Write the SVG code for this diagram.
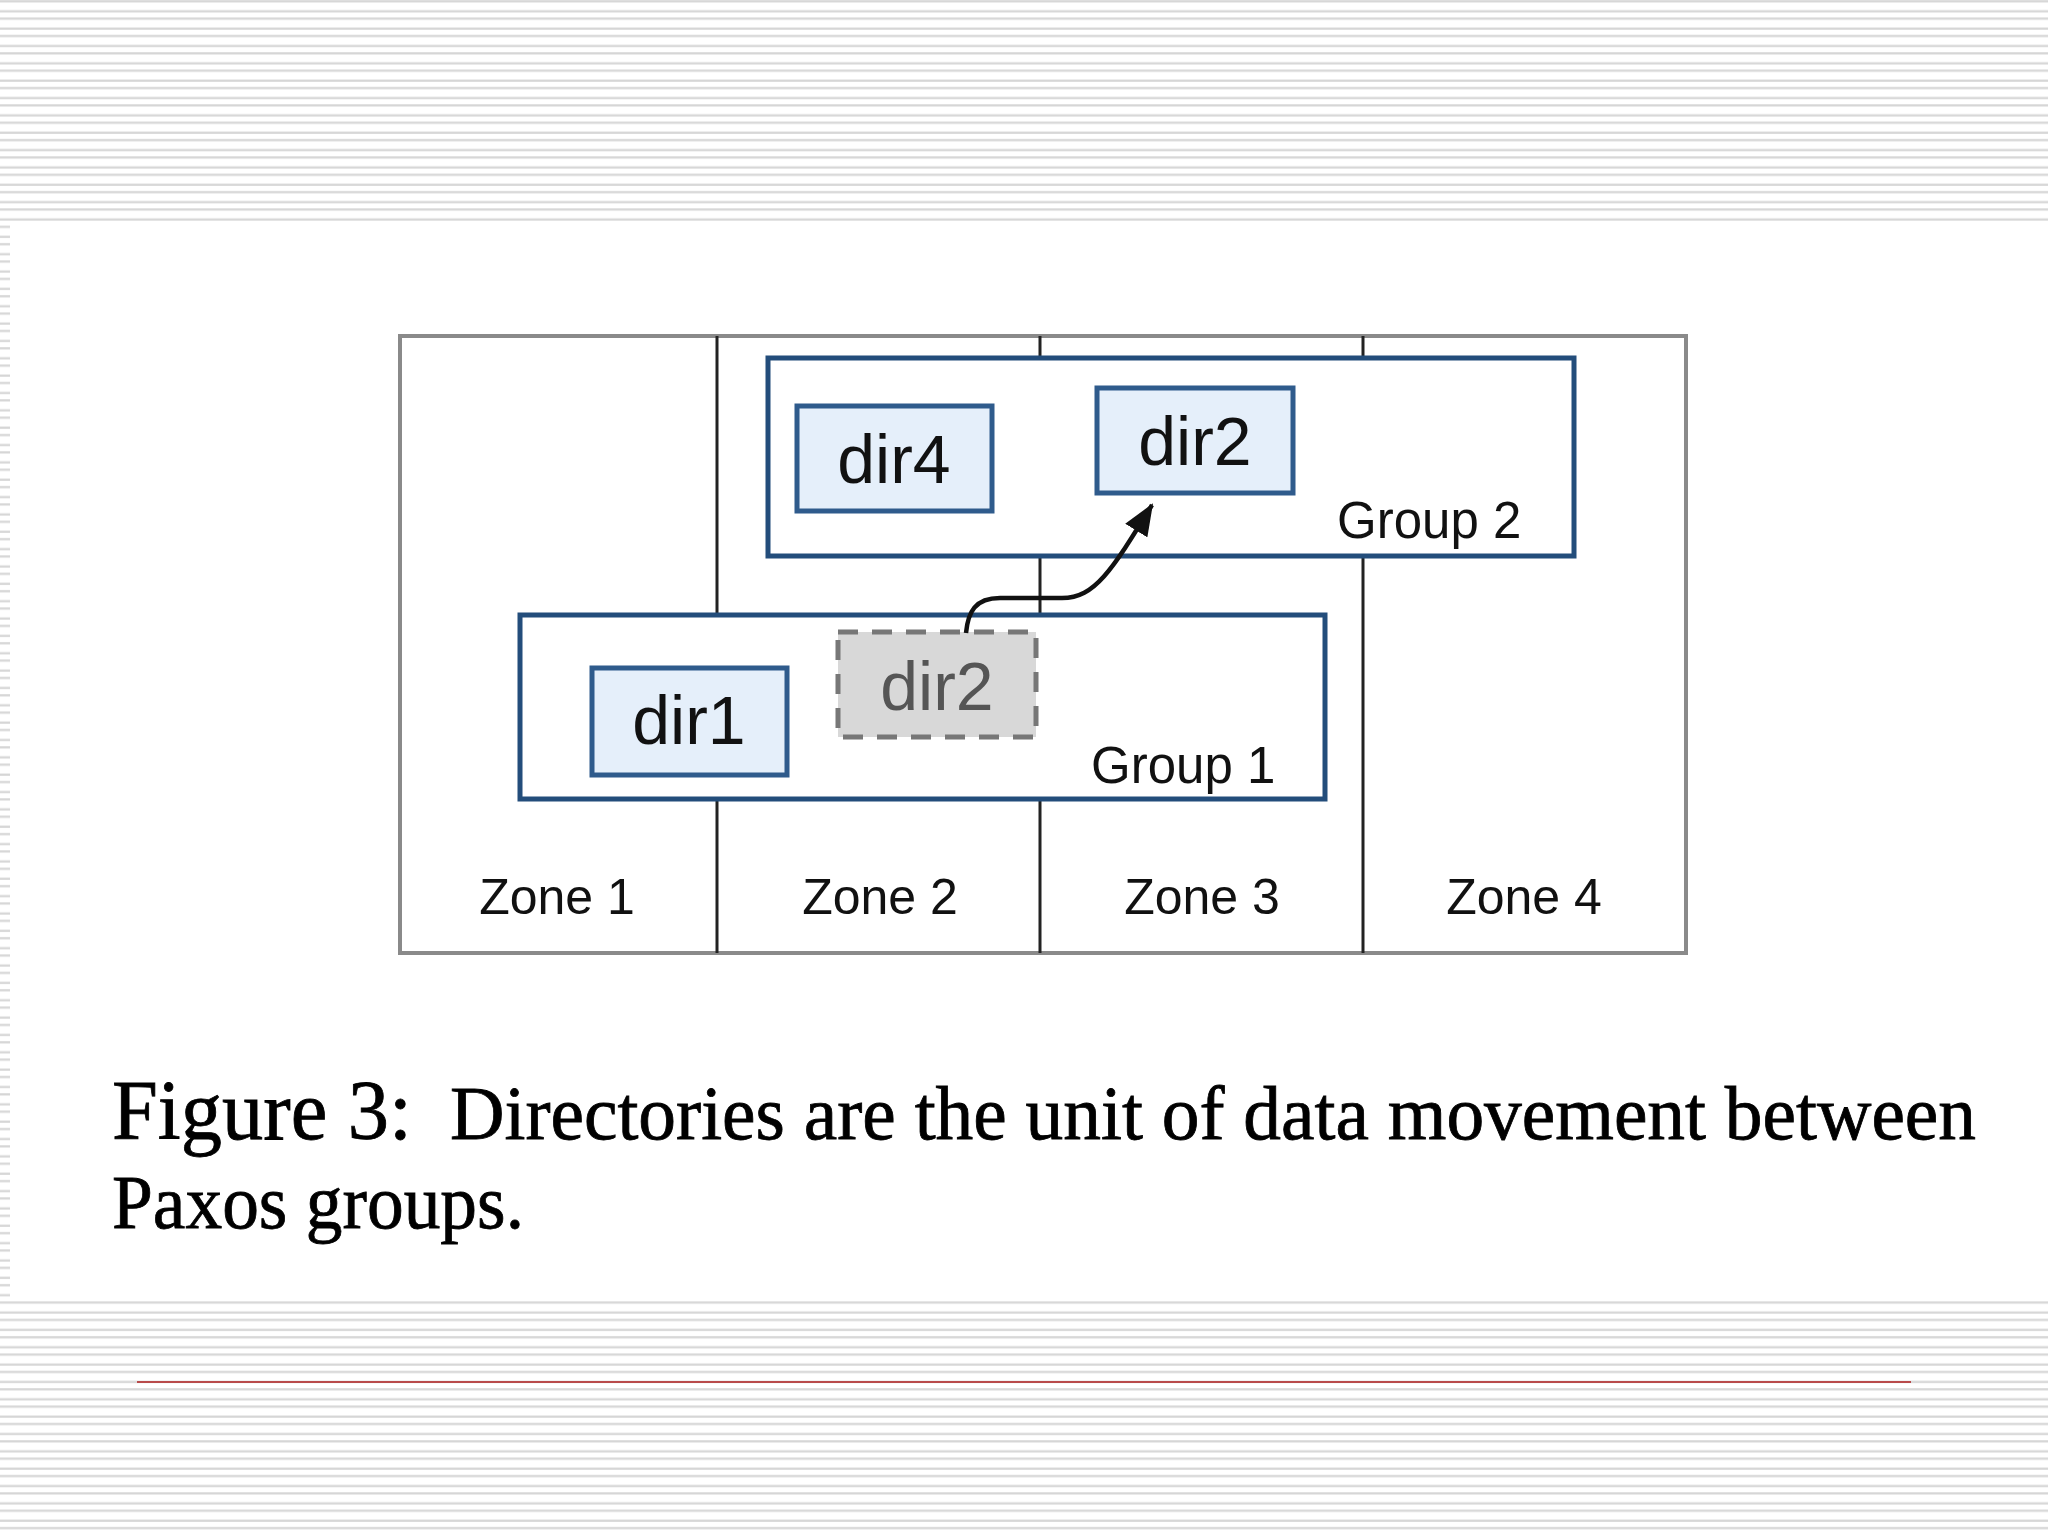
<svg xmlns="http://www.w3.org/2000/svg" width="2048" height="1536" viewBox="0 0 2048 1536">
  <defs>
    <pattern id="stripes" x="0" y="0" width="16" height="17.35" patternUnits="userSpaceOnUse">
      <rect x="0" y="0" width="16" height="17.35" fill="#ffffff"/>
      <rect x="0" y="0.2" width="16" height="2.2" fill="#d6d6d6"/>
      <rect x="0" y="10.2" width="16" height="2.2" fill="#d6d6d6"/>
    </pattern>
    <marker id="ah" markerWidth="32" markerHeight="26" viewBox="0 0 32 26" refX="30" refY="13" orient="auto" markerUnits="userSpaceOnUse">
      <path d="M0,0 L32,13 L0,26 z" fill="#111111"/>
    </marker>
    <style>
      .zone { fill: #ffffff; stroke: #8a8a8a; stroke-width: 4; }
      .divider { stroke: #222222; stroke-width: 3; }
      .group { fill: #ffffff; stroke: #234d7b; stroke-width: 5; }
      .dir { fill: #e5effa; stroke: #2f5b8c; stroke-width: 5; }
      .ghost { fill: #d8d8d8; stroke: #777777; stroke-width: 5; stroke-dasharray: 20 14; }
      .lbl { font-family: "Liberation Sans", Arial, sans-serif; fill: #111111; }
      .dirtext { font-size: 68px; text-anchor: middle; }
      .small { font-size: 51px; }
      .zonetext { font-size: 50px; text-anchor: middle; }
      .cap { font-family: "Liberation Serif", "Times New Roman", serif; fill: #000000; stroke: #000000; stroke-width: 0.8; }
      .conn { fill: none; stroke: #111111; stroke-width: 4.5; }
    </style>
  </defs>

  <!-- background -->
  <rect x="0" y="0" width="2048" height="1536" fill="url(#stripes)"/>
  <rect x="10" y="222" width="2038" height="1076" fill="#ffffff"/>
  <line x1="137" y1="1382" x2="1911" y2="1382" stroke="#b84a4a" stroke-width="2"/>

  <!-- zones -->
  <g id="zones">
    <rect class="zone" x="400" y="336" width="1286" height="617"/>
    <line class="divider" x1="717" y1="336" x2="717" y2="953"/>
    <line class="divider" x1="1040" y1="336" x2="1040" y2="953"/>
    <line class="divider" x1="1363" y1="336" x2="1363" y2="953"/>
    <text class="lbl zonetext" x="557" y="914">Zone 1</text>
    <text class="lbl zonetext" x="880" y="914">Zone 2</text>
    <text class="lbl zonetext" x="1202" y="914">Zone 3</text>
    <text class="lbl zonetext" x="1524" y="914">Zone 4</text>
  </g>

  <!-- Group 2 -->
  <g id="group2">
    <rect class="group" x="768" y="358" width="806" height="198"/>
    <text class="lbl small" x="1337" y="538">Group 2</text>
  </g>

  <!-- Group 1 -->
  <g id="group1">
    <rect class="group" x="520" y="615" width="805" height="184"/>
    <text class="lbl small" x="1091" y="783">Group 1</text>
  </g>

  <g id="dir4">
    <rect class="dir" x="797" y="406" width="195" height="105"/>
    <text class="lbl dirtext" x="894" y="483">dir4</text>
  </g>

  <g id="dir2-new">
    <rect class="dir" x="1097" y="388" width="196" height="105"/>
    <text class="lbl dirtext" x="1195" y="465">dir2</text>
  </g>

  <g id="dir1">
    <rect class="dir" x="592" y="668" width="195" height="107"/>
    <text class="lbl dirtext" x="689" y="744">dir1</text>
  </g>

  <g id="dir2-old">
    <rect class="ghost" x="838" y="632" width="198" height="105"/>
    <text class="lbl dirtext" x="937" y="710" style="fill:#555555">dir2</text>
  </g>

  <!-- connectors -->
  <g id="connectors">
    <path class="conn" d="M 966 633 C 968 612, 975 598, 1000 598 L 1062 598 C 1095 598, 1112 570, 1152 505" marker-end="url(#ah)"/>
  </g>

  <!-- caption -->
  <g id="caption">
    <text class="cap" x="112" y="1139" font-size="84" textLength="300" lengthAdjust="spacingAndGlyphs">Figure 3:</text>
    <text class="cap" x="450" y="1139" font-size="76" textLength="1526" lengthAdjust="spacingAndGlyphs">Directories are the unit of data movement between</text>
    <text class="cap" x="112" y="1228" font-size="76" textLength="412" lengthAdjust="spacingAndGlyphs">Paxos groups.</text>
  </g>
</svg>
